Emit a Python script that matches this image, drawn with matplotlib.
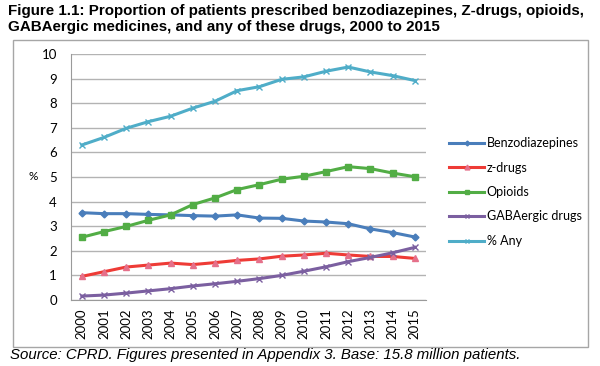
import numpy as np
import matplotlib.pyplot as plt
from matplotlib.patches import Rectangle

years = [str(y) for y in range(2000, 2016)]
benzo = [3.55, 3.51, 3.51, 3.48, 3.46, 3.43, 3.41, 3.46, 3.33, 3.32, 3.21, 3.17, 3.10, 2.89, 2.74, 2.56]
zdrugs = [0.96, 1.15, 1.34, 1.42, 1.50, 1.44, 1.52, 1.61, 1.67, 1.78, 1.83, 1.90, 1.83, 1.77, 1.77, 1.69]
opioids = [2.55, 2.78, 2.99, 3.24, 3.46, 3.88, 4.15, 4.49, 4.69, 4.91, 5.03, 5.22, 5.42, 5.34, 5.16, 5.01]
gaba = [0.16, 0.20, 0.28, 0.37, 0.46, 0.57, 0.66, 0.76, 0.87, 1.00, 1.17, 1.35, 1.56, 1.73, 1.92, 2.14]
any_drug = [6.30, 6.61, 6.98, 7.25, 7.47, 7.80, 8.08, 8.51, 8.67, 8.97, 9.07, 9.30, 9.47, 9.27, 9.12, 8.92]

fig = plt.figure(figsize=(6, 3.66), dpi=100)
W, H = 600, 366

# outer chart frame
fig.patches.append(Rectangle((13/W, 1-347/H), 575/W, 307/H, transform=fig.transFigure,
                             fill=False, edgecolor='#a6a6a6', lw=1.0))

ax = fig.add_axes([70.7/W, 1-300/H, 355.3/W, 246/H])
x = np.arange(len(years))
lw = 2.2
ax.plot(x, benzo, color='#4a7ebb', lw=lw, marker='D', ms=3.5, label='Benzodiazepines')
ax.plot(x, zdrugs, color='#ee3b36', lw=lw, marker='^', ms=5, mfc='#e5708a', mec='#e5708a', label='z-drugs')
ax.plot(x, opioids, color='#52ad45', lw=lw, marker='s', ms=5, label='Opioids')
ax.plot(x, gaba, color='#7b5fa0', lw=lw, marker='x', ms=4, mew=1, label='GABAergic drugs')
ax.plot(x, any_drug, color='#4fadc8', lw=lw, marker='x', ms=4, mew=1, label='% Any')

ax.set_xlim(-0.5, 15.5)
ax.set_ylim(0, 10)
ax.set_yticks(range(0, 11))
ax.set_xticks(x)
tfont = {'family': 'Lato', 'size': 9.5}
ax.set_xticklabels(years, rotation=90, **tfont)
ax.set_yticklabels([str(v) for v in range(0, 11)], **tfont)
ax.tick_params(length=0, pad=10)
ax.tick_params(axis='x', pad=6)
ax.grid(axis='y', color='#b3b3b3', lw=1.0)
ax.set_axisbelow(True)
for s in ['top', 'right']:
    ax.spines[s].set_visible(False)
for s in ['left', 'bottom']:
    ax.spines[s].set_color('#9a9a9a')
fig.text(33/W, 1-177/H, '%', fontsize=8.5, family='Lato', ha='center', va='center')

fig.legend(loc='center left', bbox_to_anchor=(438/W, 1-192/H), frameon=False,
           prop={'family': 'Lato', 'size': 9}, handlelength=2.8, handletextpad=0.2,
           labelspacing=1.0, markerscale=0.7)

fig.text(8/W, 1-4/H, 'Figure 1.1: Proportion of patients prescribed benzodiazepines, Z-drugs, opioids,\n'
         'GABAergic medicines, and any of these drugs, 2000 to 2015',
         fontsize=10.9, fontweight='bold', family='Liberation Sans', va='top', ha='left', linespacing=1.2)
fig.text(10/W, 1-355/H, 'Source: CPRD. Figures presented in Appendix 3. Base: 15.8 million patients.',
         fontsize=10.8, style='italic', family='Liberation Sans', va='center', ha='left')

fig.savefig('out.png', dpi=100)
